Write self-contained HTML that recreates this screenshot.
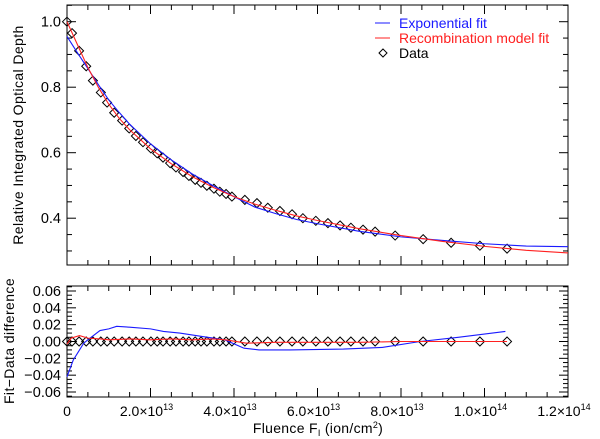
<!DOCTYPE html>
<html><head><meta charset="utf-8"><style>
html,body{margin:0;padding:0;background:#fff;}
svg{display:block;font-family:"Liberation Sans",sans-serif;}
</style></head><body>
<svg id="chart" width="600" height="439" viewBox="0 0 600 439" xmlns="http://www.w3.org/2000/svg">
<g id="topPanel"></g>
<g id="botPanel"></g>
<text transform="translate(23,135) rotate(-90)" text-anchor="middle" font-size="14" letter-spacing="0.4">Relative Integrated Optical Depth</text>
<text transform="translate(14,341) rotate(-90)" text-anchor="middle" font-size="14" letter-spacing="0.4">Fit−Data difference</text>
<text x="318" y="433" text-anchor="middle" font-size="14" letter-spacing="0.3">Fluence F<tspan font-size="9" dy="3">I</tspan><tspan dy="-3"> (ion/cm</tspan><tspan font-size="9" dy="-5">2</tspan><tspan dy="5">)</tspan></text>
<g>
<line x1="375" y1="23" x2="390" y2="23" stroke="#1a1aff" stroke-width="1"/>
<text x="399" y="28" fill="#1a1aff" font-size="14">Exponential fit</text>
<line x1="375" y1="38" x2="390" y2="38" stroke="#ff2020" stroke-width="1"/>
<text x="399" y="43" fill="#ff2020" font-size="14">Recombination model fit</text>
<path d="M383 49 L387 53 L383 57 L379 53 Z" fill="none" stroke="#000"/>
<text x="399" y="58" fill="#000" font-size="14">Data</text>
</g>
</svg>
<script>
const dataF = [0,0.12,0.29,0.46,0.62,0.81,0.96,1.13,1.32,1.49,1.65,1.82,2.01,2.16,2.30,2.47,2.61,2.78,2.92,3.07,3.21,3.35,3.52,3.66,3.81,3.95,4.26,4.55,4.81,5.10,5.39,5.65,5.96,6.25,6.54,6.80,7.09,7.38,7.86,8.53,9.20,9.89,10.54];
const dataV = [1.0,0.965,0.911,0.864,0.82,0.784,0.753,0.722,0.698,0.674,0.651,0.632,0.613,0.598,0.585,0.568,0.555,0.541,0.529,0.517,0.508,0.499,0.49,0.481,0.474,0.466,0.456,0.446,0.432,0.422,0.412,0.400,0.392,0.385,0.378,0.371,0.365,0.359,0.347,0.336,0.325,0.316,0.307];
const fitF = [0,0.25,0.5,0.75,1,1.25,1.5,2,2.5,3,3.5,4,4.5,5,5.5,6,7,8,9,10,11,12];
const redFit = [1.0,0.93,0.86,0.80,0.748,0.705,0.670,0.612,0.566,0.527,0.494,0.466,0.443,0.424,0.407,0.393,0.368,0.347,0.329,0.314,0.302,0.294];
const blueFit = [0.955,0.905,0.857,0.808,0.761,0.723,0.687,0.627,0.578,0.535,0.499,0.466,0.434,0.414,0.396,0.383,0.360,0.343,0.332,0.322,0.315,0.313];
const resF = [0,0.15,0.25,0.4,0.5,0.79,1.0,1.19,1.5,2.0,2.31,2.7,3.23,3.78,4.24,4.6,5.34,6.62,7.55,8.46,9.37,10.5];
const blueRes = [-0.042,-0.022,-0.014,-0.002,0.002,0.013,0.015,0.018,0.017,0.015,0.012,0.010,0.006,0.002,-0.008,-0.010,-0.010,-0.009,-0.007,0.000,0.005,0.012];
const redResF = [0,0.1,0.3,0.5,0.8,1.0,1.5,2.0,2.5,3.0,3.5,3.8,4.3,5.0,6.0,7.0,8.0,9.0,10.54];
const redRes = [-0.003,0.004,0.007,0.004,0.003,0.002,0.003,0.002,0.003,0.002,0.003,0.002,-0.002,-0.001,-0.001,-0.001,0,0,0];
const xTicks = [0,2,4,6,8,10,12];
const xTickLabels = ["0","2.0×10","4.0×10","6.0×10","8.0×10","1.0×10","1.2×10"];
const xTickExp = ["","13","13","13","13","14","14"];
const topYTicks = [0.4,0.6,0.8,1.0];
const botYTicks = [-0.06,-0.04,-0.02,0,0.02,0.04,0.06];

const NS="http://www.w3.org/2000/svg";
const L=67,R=568,T1=5,B1=265,T2=286,B2=397;
const X=f=>L+(f/12)*(R-L);
const Y1=v=>21.7+(1-v)*327.5;
const Y2=v=>341.5-v*841.7;
function mk(p,tag,a){const e=document.createElementNS(NS,tag);for(const k in a)e.setAttribute(k,a[k]);p.appendChild(e);return e;}
const topG=document.getElementById('topPanel'), botG=document.getElementById('botPanel');

function frame(g,T,B,name){
  const r=mk(g,'rect',{x:L,y:T,width:R-L,height:B-T,fill:'none',stroke:'#000','stroke-width':1});
  
  
  for(let f=0;f<=12.001;f+=0.5){
    const maj=Math.abs(f/2-Math.round(f/2))<1e-6, len=maj?9:5;
    mk(g,'line',{x1:X(f),y1:B,x2:X(f),y2:B-len,stroke:'#000'});
    mk(g,'line',{x1:X(f),y1:T,x2:X(f),y2:T+len,stroke:'#000'});
  }
}
frame(topG,T1,B1,'top');
frame(botG,T2,B2,'residual');
for(let v=0.25;v<=1.051;v+=0.05){
  const maj=Math.abs(v*5-Math.round(v*5))<1e-6,len=maj?9:5,y=Y1(v);
  if(y<T1||y>B1)continue;
  mk(topG,'line',{x1:L,y1:y,x2:L+len,y2:y,stroke:'#000'});
  mk(topG,'line',{x1:R,y1:y,x2:R-len,y2:y,stroke:'#000'});
}
topYTicks.forEach(v=>{
  const t=mk(topG,'text',{x:61,y:Y1(v)+5,'text-anchor':'end','font-size':14.5});
  
  
  t.textContent=v.toFixed(1);
});
for(let v=-0.065;v<=0.0651;v+=0.005){
  const maj=Math.abs(v*50-Math.round(v*50))<1e-6,len=maj?9:5,y=Y2(v);
  mk(botG,'line',{x1:L,y1:y,x2:L+len,y2:y,stroke:'#000'});
  mk(botG,'line',{x1:R,y1:y,x2:R-len,y2:y,stroke:'#000'});
}
botYTicks.forEach(v=>{
  const t=mk(botG,'text',{x:61,y:Y2(v)+5,'text-anchor':'end','font-size':14.5});
  
  
  t.textContent=(v<0?'−':'')+Math.abs(v).toFixed(2);
});
xTicks.forEach((f,i)=>{
  const t=mk(botG,'text',{x:X(f)+(i?-4:0),y:416,'text-anchor':'middle','font-size':14});
  
  
  t.textContent=xTickLabels[i];
  if(xTickExp[i]){const s=mk(t,'tspan',{'font-size':9,dy:-6});s.textContent=xTickExp[i];}
});
function line(g,xs,ys,yf,col,name){
  const p=mk(g,'polyline',{points:xs.map((f,i)=>X(f)+','+yf(ys[i])).join(' '),fill:'none',stroke:col,'stroke-width':1.1});
  
  
}
function diamond(g,x,y){
  const d=mk(g,'path',{d:`M${x} ${y-4.5} L${x+4.5} ${y} L${x} ${y+4.5} L${x-4.5} ${y} Z`,fill:'none',stroke:'#000','stroke-width':1});
  
  
}
dataF.forEach((f,i)=>{diamond(topG,X(f),Y1(dataV[i]));diamond(botG,X(f),Y2(0));});
line(topG,fitF,blueFit,Y1,'#1a1aff','exponential-fit-line');
line(topG,fitF,redFit,Y1,'#ff2020','recombination-fit-line');
line(botG,resF,blueRes,Y2,'#1a1aff','exponential-residual-line');
line(botG,redResF,redRes,Y2,'#ff2020','recombination-residual-line');
</script>
</body></html>
